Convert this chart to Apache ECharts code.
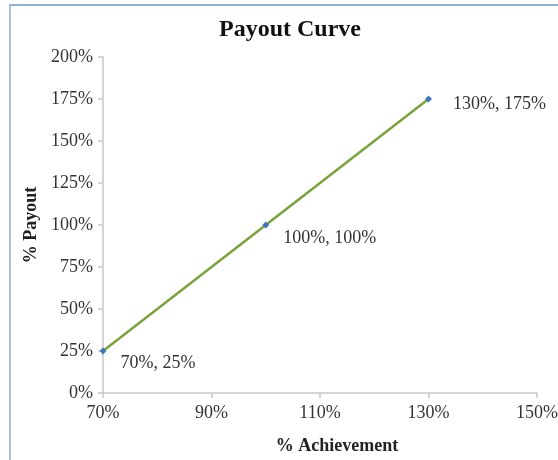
<!DOCTYPE html>
<html>
<head>
<meta charset="utf-8">
<script src="https://cdn.jsdelivr.net/npm/echarts@6/dist/echarts.min.js"></script>
<style>
html,body{margin:0;padding:0;background:#fff;}
#frame{position:absolute;left:9px;top:4px;width:549px;height:456px;border-top:2px solid #8fb0d6;border-left:2px solid #a9c2e0;box-sizing:border-box;}
#chart{position:absolute;left:0;top:0;width:558px;height:460px;}
</style>
</head>
<body>
<div id="frame"></div>
<div id="chart"></div>
<script>
const achievement = [70, 100, 130];
const payout = [25, 100, 175];
const xTicks = { min: 70, max: 150, interval: 20 };
const yTicks = { min: 0, max: 200, interval: 25 };
const labelOffsets = [[9, 12], [9, 13], [16, 5]];

const chart = echarts.init(document.getElementById('chart'));
const serif = '"Liberation Serif", "Times New Roman", serif';
chart.setOption({
  backgroundColor: 'transparent',
  animation: false,
  title: {
    text: 'Payout Curve',
    left: 285, top: 13, textAlign: 'center',
    textStyle: { fontFamily: serif, fontSize: 24, fontWeight: 'bold', color: '#111' }
  },
  grid: { left: 103, right: 21, top: 57, bottom: 67, containLabel: false, outerBoundsMode: 'none' },
  xAxis: {
    type: 'value', min: xTicks.min, max: xTicks.max, interval: xTicks.interval,
    name: '% Achievement', nameLocation: 'middle', nameGap: 44,
    nameTextStyle: { fontFamily: serif, fontSize: 18, fontWeight: 'bold', color: '#222', padding: [0, 0, 0, 34] },
    axisLine: { show: true, lineStyle: { color: '#c8c8c8', width: 1.5 } },
    axisTick: { show: true, length: 5, lineStyle: { color: '#c8c8c8', width: 1.5 } },
    splitLine: { show: false },
    axisLabel: { formatter: v => v + '%', fontFamily: serif, fontSize: 18, color: '#333', margin: 11 }
  },
  yAxis: {
    type: 'value', min: yTicks.min, max: yTicks.max, interval: yTicks.interval,
    name: '% Payout', nameLocation: 'middle', nameGap: 56, nameRotate: 90,
    nameTextStyle: { fontFamily: serif, fontSize: 18, fontWeight: 'bold', color: '#222' },
    axisLine: { show: true, lineStyle: { color: '#c8c8c8', width: 1.5 } },
    axisTick: { show: true, length: 5, lineStyle: { color: '#c8c8c8', width: 1.5 } },
    splitLine: { show: false },
    axisLabel: { formatter: v => v + '%', fontFamily: serif, fontSize: 18, color: '#333', margin: 10 }
  },
  series: [{
    type: 'line',
    data: achievement.map((x, i) => ({
      value: [x, payout[i]],
      label: { offset: labelOffsets[i] }
    })),
    symbol: 'diamond', symbolSize: 7,
    itemStyle: { color: '#3f78c0' },
    lineStyle: { color: '#7aa33c', width: 2.5 },
    label: {
      show: true, position: 'right',
      formatter: p => p.value[0] + '%, ' + p.value[1] + '%',
      fontFamily: serif, fontSize: 18, color: '#333'
    }
  }]
});
</script>
</body>
</html>
